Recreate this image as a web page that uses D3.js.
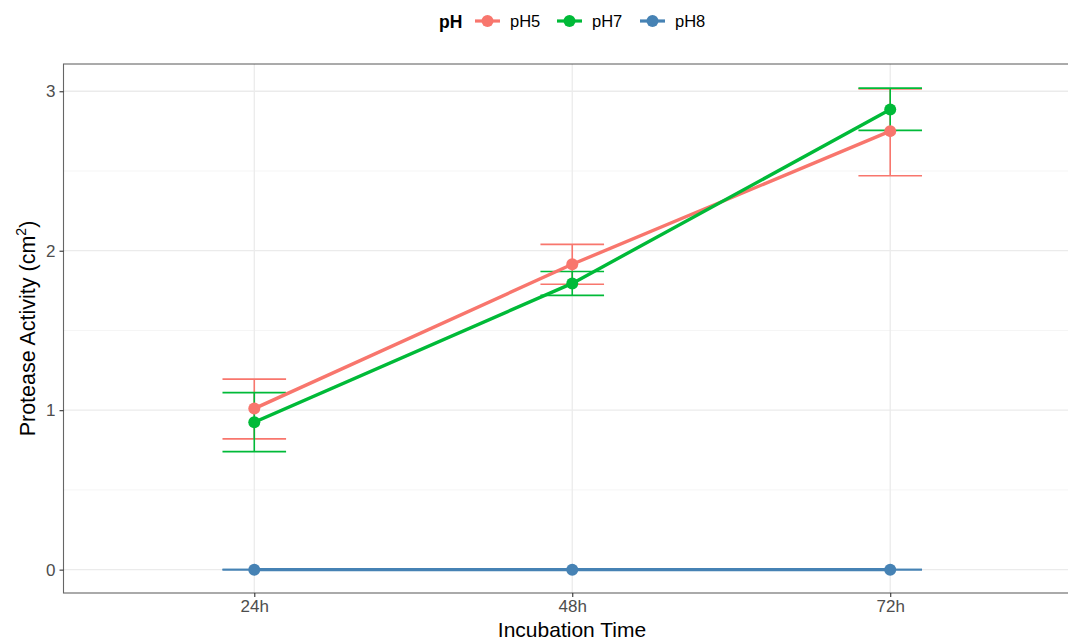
<!DOCTYPE html>
<html>
<head>
<meta charset="utf-8">
<script src="https://cdn.jsdelivr.net/npm/d3@7"></script>
<style>
  html, body { margin: 0; padding: 0; background: #fff; }
  svg { display: block; font-family: "Liberation Sans", Arial, sans-serif; }
</style>
</head>
<body>
<svg id="chart" width="1068" height="641"></svg>
<script>
// Incubation times (x categories)
const times = ["24h", "48h", "72h"];
// pH treatments (series)
const phLevels = ["pH5", "pH7", "pH8"];
const phColors = ["#F8766D", "#00BA38", "#4682B4"];

// Mean protease activity (cm^2) per time point
const meanPH5 = [1.01, 1.915, 2.75];
const meanPH7 = [0.925, 1.795, 2.885];
const meanPH8 = [0, 0, 0];

// Error bar bounds
const lowPH5 = [0.82, 1.79, 2.47];
const highPH5 = [1.195, 2.04, 3.015];
const lowPH7 = [0.74, 1.72, 2.755];
const highPH7 = [1.11, 1.87, 3.02];
const lowPH8 = [0, 0, 0];
const highPH8 = [0, 0, 0];

const yTicks = [0, 1, 2, 3];
const yMinor = [0.5, 1.5, 2.5];

const series = [
  { name: phLevels[0], color: phColors[0], mean: meanPH5, low: lowPH5, high: highPH5 },
  { name: phLevels[1], color: phColors[1], mean: meanPH7, low: lowPH7, high: highPH7 },
  { name: phLevels[2], color: phColors[2], mean: meanPH8, low: lowPH8, high: highPH8 }
];

const svg = d3.select("#chart");

const panel = { left: 63.5, top: 64, right: 1081, bottom: 593 };

const x = d3.scalePoint().domain(times).range([panel.left, panel.right]).padding(0.6);
const y = d3.scaleLinear().domain([-0.1465, 3.171]).range([panel.bottom, panel.top]);
const step = x.step();

// panel background and grid
const g = svg.append("g");
g.append("rect")
  .attr("x", panel.left).attr("y", panel.top)
  .attr("width", panel.right - panel.left).attr("height", panel.bottom - panel.top)
  .attr("fill", "#fff");

g.selectAll(".minor").data(yMinor).enter().append("line")
  .attr("x1", panel.left).attr("x2", panel.right)
  .attr("y1", d => y(d)).attr("y2", d => y(d))
  .attr("stroke", "#F3F3F3").attr("stroke-width", 0.8);

g.selectAll(".majorY").data(yTicks).enter().append("line")
  .attr("x1", panel.left).attr("x2", panel.right)
  .attr("y1", d => y(d)).attr("y2", d => y(d))
  .attr("stroke", "#EBEBEB").attr("stroke-width", 1.3);

g.selectAll(".majorX").data(times).enter().append("line")
  .attr("x1", d => x(d)).attr("x2", d => x(d))
  .attr("y1", panel.top).attr("y2", panel.bottom)
  .attr("stroke", "#EBEBEB").attr("stroke-width", 1.3);

// error bars
const half = step * 0.1;
series.forEach(s => {
  const eg = svg.append("g").attr("stroke", s.color).attr("stroke-width", 1.6).attr("fill", "none");
  times.forEach((t, i) => {
    const cx = x(t);
    eg.append("line").attr("x1", cx).attr("x2", cx).attr("y1", y(s.low[i])).attr("y2", y(s.high[i]));
    eg.append("line").attr("x1", cx - half).attr("x2", cx + half).attr("y1", y(s.low[i])).attr("y2", y(s.low[i]));
    eg.append("line").attr("x1", cx - half).attr("x2", cx + half).attr("y1", y(s.high[i])).attr("y2", y(s.high[i]));
  });
});

// lines and points
const line = d3.line().x((d, i) => x(times[i])).y(d => y(d));
series.forEach(s => {
  svg.append("path")
    .datum(s.mean)
    .attr("d", line)
    .attr("fill", "none")
    .attr("stroke", s.color)
    .attr("stroke-width", 3.4)
    .attr("stroke-linejoin", "round");
  svg.append("g").selectAll("circle").data(s.mean).enter().append("circle")
    .attr("cx", (d, i) => x(times[i]))
    .attr("cy", d => y(d))
    .attr("r", 6)
    .attr("fill", s.color);
});

// panel border
svg.append("rect")
  .attr("x", panel.left).attr("y", panel.top)
  .attr("width", panel.right - panel.left).attr("height", panel.bottom - panel.top)
  .attr("fill", "none").attr("stroke", "#333333").attr("stroke-width", 1.1)
  .attr("opacity", 0.75);

// y axis
const yAxis = svg.append("g")
  .attr("transform", `translate(${panel.left},0)`)
  .call(d3.axisLeft(y).tickValues(yTicks).tickSize(4).tickPadding(4).tickFormat(d3.format("d")));
yAxis.select(".domain").remove();
yAxis.selectAll(".tick line").attr("stroke", "#333").attr("stroke-width", 1.1);
yAxis.selectAll(".tick text").attr("fill", "#4D4D4D").attr("font-size", 17);

// x axis
const xAxis = svg.append("g")
  .attr("transform", `translate(0,${panel.bottom})`)
  .call(d3.axisBottom(x).tickSize(4).tickPadding(3));
xAxis.select(".domain").remove();
xAxis.selectAll(".tick line").attr("stroke", "#333").attr("stroke-width", 1.1);
xAxis.selectAll(".tick text").attr("fill", "#4D4D4D").attr("font-size", 17);

// axis titles
svg.append("text")
  .attr("x", 572).attr("y", 636.5)
  .attr("text-anchor", "middle")
  .attr("font-size", 21).attr("fill", "#000")
  .text("Incubation Time");

const yTitle = svg.append("text")
  .attr("transform", `translate(35,${(panel.top + panel.bottom) / 2}) rotate(-90)`)
  .attr("text-anchor", "middle")
  .attr("font-size", 21.5).attr("fill", "#000");
yTitle.append("tspan").text("Protease Activity (cm");
yTitle.append("tspan").attr("font-size", 14).attr("dy", -9).text("2");
yTitle.append("tspan").attr("dy", 9).text(")");

// legend
const legend = svg.append("g").attr("transform", "translate(0,21)");
legend.append("text")
  .attr("x", 439).attr("y", 6.5)
  .attr("font-size", 17.5).attr("font-weight", "bold").attr("fill", "#000")
  .text("pH");
const keyX = [475, 557, 640];
series.forEach((s, i) => {
  const kg = legend.append("g").attr("transform", `translate(${keyX[i]},0)`);
  kg.append("line").attr("x1", 0).attr("x2", 25).attr("y1", 0).attr("y2", 0)
    .attr("stroke", s.color).attr("stroke-width", 3.2);
  kg.append("circle").attr("cx", 12.5).attr("cy", 0).attr("r", 6).attr("fill", s.color);
  kg.append("text").attr("x", 35).attr("y", 6)
    .attr("font-size", 16.5).attr("fill", "#000").text(s.name);
});
</script>
</body>
</html>
